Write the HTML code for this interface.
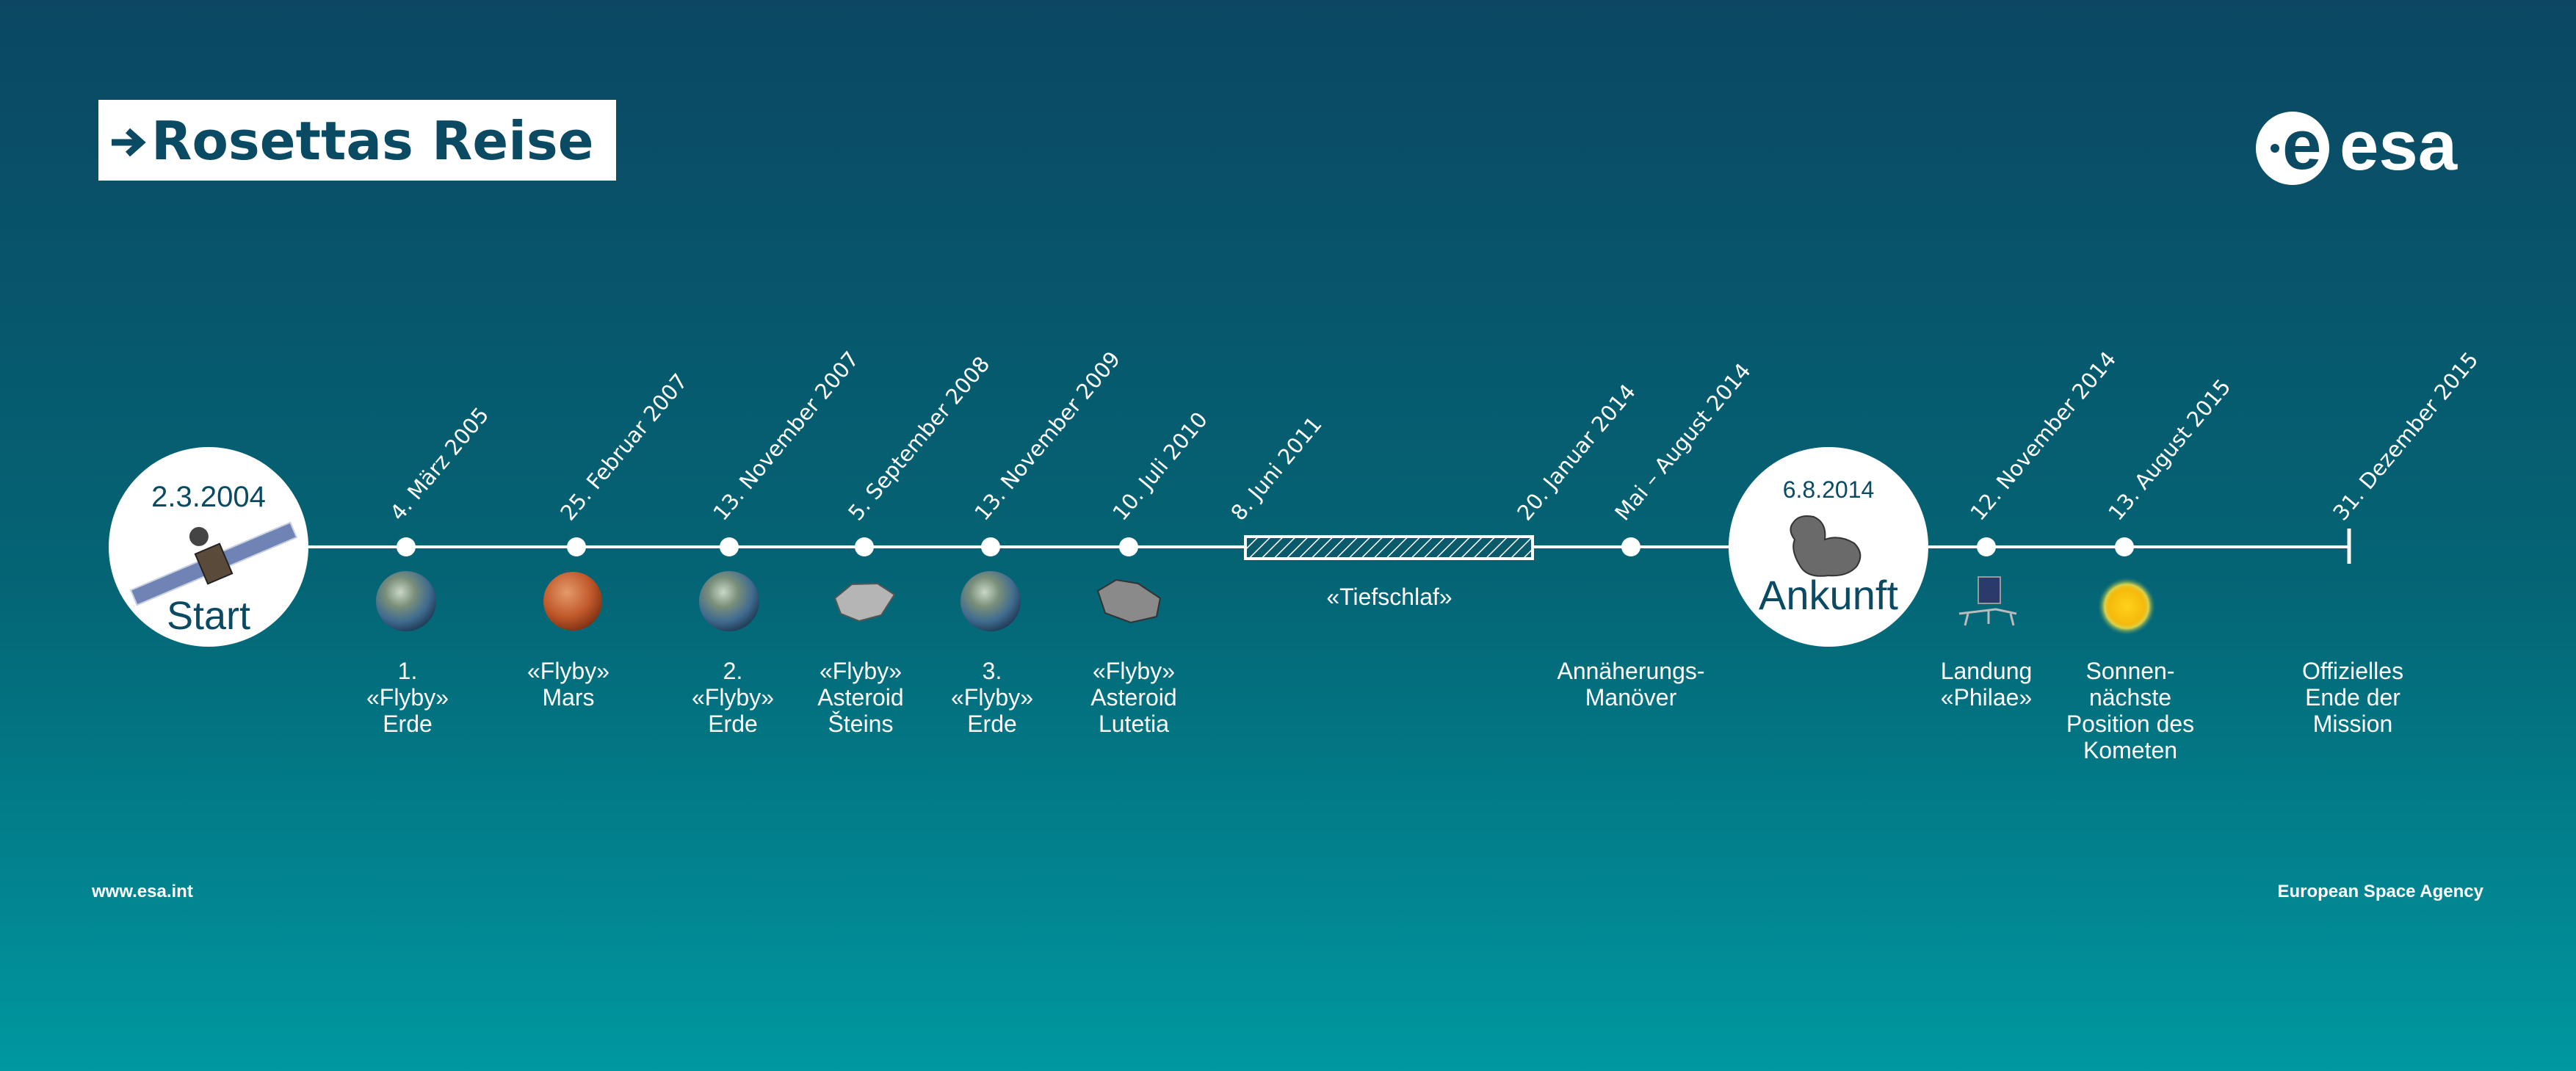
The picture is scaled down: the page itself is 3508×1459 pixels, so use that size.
<!DOCTYPE html>
<html><head><meta charset="utf-8"><style>
html,body{margin:0;padding:0;width:3508px;height:1459px;overflow:hidden}
svg{display:block}
.d{font-family:"DejaVu Sans","Liberation Sans",sans-serif;font-size:29px;fill:#fff}
.l{font-family:"Liberation Sans Narrow","Liberation Sans",sans-serif;font-size:32px;fill:#fff;text-anchor:middle}
</style></head><body>
<svg width="3508" height="1459" viewBox="0 0 3508 1459" xmlns="http://www.w3.org/2000/svg">
<defs>
<linearGradient id="bg" x1="0" y1="0" x2="0" y2="1">
<stop offset="0" stop-color="#0b4762"/><stop offset="0.55" stop-color="#046575"/><stop offset="1" stop-color="#0098a1"/>
</linearGradient>
<radialGradient id="earth" cx="0.4" cy="0.35" r="0.7">
<stop offset="0" stop-color="#c9d6c8"/><stop offset="0.35" stop-color="#7a8f7a"/><stop offset="0.7" stop-color="#3f6b8f"/><stop offset="1" stop-color="#1d3550"/>
</radialGradient>
<radialGradient id="mars" cx="0.4" cy="0.35" r="0.7">
<stop offset="0" stop-color="#e59a6a"/><stop offset="0.6" stop-color="#c0582a"/><stop offset="1" stop-color="#7a2e12"/>
</radialGradient>
<radialGradient id="sun" cx="0.5" cy="0.5" r="0.5">
<stop offset="0" stop-color="#ffd21a"/><stop offset="0.62" stop-color="#f5b90c"/><stop offset="0.75" stop-color="#d9d24a"/><stop offset="1" stop-color="#0b6a74" stop-opacity="0"/>
</radialGradient>
<pattern id="hatch" width="12" height="12" patternUnits="userSpaceOnUse" patternTransform="rotate(45)">
<rect width="12" height="12" fill="#0a5a6c"/><line x1="0" y1="0" x2="0" y2="12" stroke="#fff" stroke-width="3"/>
</pattern>
</defs>
<rect width="3508" height="1459" fill="url(#bg)"/>

<!-- title -->
<rect x="134" y="136" width="705" height="110" fill="#fff"/>
<path d="M152,194 L188,194 M174,178 L192,194 L174,210" stroke="#0b4a63" stroke-width="9" fill="none"/>
<text x="206" y="217" font-family="DejaVu Sans,'Liberation Sans',sans-serif" font-weight="bold" font-size="72" fill="#0b4a63">Rosettas Reise</text>

<!-- esa logo -->
<circle cx="3122" cy="202" r="50" fill="#fff"/>
<circle cx="3098" cy="202" r="6" fill="#0b4a63"/>
<text x="3108" y="230" font-family="'Liberation Sans',sans-serif" font-weight="bold" font-size="96" fill="#0b4a63">e</text>
<text x="3186" y="231" font-family="'Liberation Sans',sans-serif" font-weight="bold" font-size="96" fill="#fff">esa</text>

<!-- timeline -->
<line x1="400" y1="745" x2="3200" y2="745" stroke="#fff" stroke-width="4"/>
<line x1="3199" y1="720" x2="3199" y2="768" stroke="#fff" stroke-width="5"/>
<rect x="1696" y="731" width="391" height="30" fill="url(#hatch)" stroke="#fff" stroke-width="4"/>
<g fill="#fff">
<circle cx="553" cy="745" r="13"/><circle cx="785" cy="745" r="13"/><circle cx="993" cy="745" r="13"/>
<circle cx="1177" cy="745" r="13"/><circle cx="1349" cy="745" r="13"/><circle cx="1537" cy="745" r="13"/>
<circle cx="2221" cy="745" r="13"/><circle cx="2705" cy="745" r="13"/><circle cx="2893" cy="745" r="13"/>
</g>

<!-- start circle -->
<circle cx="284" cy="745" r="136" fill="#fff"/>
<text x="284" y="690" text-anchor="middle" font-family="'Liberation Sans Narrow','Liberation Sans',sans-serif" font-size="40" fill="#0b4a63">2.3.2004</text>
<text x="284" y="857" text-anchor="middle" font-family="'Liberation Sans Narrow','Liberation Sans',sans-serif" font-size="54" fill="#0b4a63">Start</text>
<g transform="translate(291,768) rotate(-23)">
<rect x="-118" y="-11" width="100" height="22" fill="#6f84b5" stroke="#c8d0e0" stroke-width="2"/>
<rect x="18" y="-11" width="100" height="22" fill="#6f84b5" stroke="#c8d0e0" stroke-width="2"/>
<rect x="-18" y="-22" width="36" height="44" fill="#5a4a3a" stroke="#222" stroke-width="2"/>
<circle cx="-4" cy="-42" r="13" fill="#444"/>
</g>

<!-- arrival circle -->
<circle cx="2490" cy="745" r="136" fill="#fff"/>
<text x="2490" y="678" text-anchor="middle" font-family="'Liberation Sans Narrow','Liberation Sans',sans-serif" font-size="32" fill="#0b4a63">6.8.2014</text>
<text x="2490" y="830" text-anchor="middle" font-family="'Liberation Sans Narrow','Liberation Sans',sans-serif" font-size="56" fill="#0b4a63">Ankunft</text>
<g fill="#6a6a6a" stroke="#333" stroke-width="2">
<path d="M2442,712 Q2450,700 2470,704 Q2488,712 2485,735 Q2505,728 2525,740 Q2540,755 2528,772 Q2515,786 2490,784 Q2462,788 2452,772 Q2438,750 2444,735 Q2434,722 2442,712Z"/>
</g>

<!-- icons -->
<circle cx="553" cy="819" r="41" fill="url(#earth)"/>
<circle cx="993" cy="819" r="41" fill="url(#earth)"/>
<circle cx="1349" cy="819" r="41" fill="url(#earth)"/>
<circle cx="780" cy="819" r="40" fill="url(#mars)"/>
<path d="M1137,815 L1160,796 L1195,795 L1218,810 L1200,838 L1170,846 L1145,836Z" fill="#b5b5b5" stroke="#555" stroke-width="2"/>
<path d="M1495,805 L1520,790 L1550,795 L1580,815 L1575,840 L1540,848 L1505,835Z" fill="#8a8a8a" stroke="#333" stroke-width="2"/>
<g>
<rect x="2694" y="786" width="30" height="36" fill="#2a3a6a" stroke="#999" stroke-width="2"/>
<path d="M2668,836 L2718,830 L2746,836 M2680,836 L2676,852 M2738,836 L2742,852 M2708,830 L2708,850" stroke="#bbb" stroke-width="3" fill="none"/>
</g>
<circle cx="2896" cy="826" r="40" fill="url(#sun)"/>

<!-- dates -->
<g class="d">
<text transform="translate(545,711) rotate(-50)">4. März 2005</text>
<text transform="translate(777,711) rotate(-50)">25. Februar 2007</text>
<text transform="translate(985,711) rotate(-50)">13. November 2007</text>
<text transform="translate(1169,711) rotate(-50)">5. September 2008</text>
<text transform="translate(1341,711) rotate(-50)">13. November 2009</text>
<text transform="translate(1529,711) rotate(-50)">10. Juli 2010</text>
<text transform="translate(1690,711) rotate(-50)">8. Juni 2011</text>
<text transform="translate(2080,711) rotate(-50)">20. Januar 2014</text>
<text transform="translate(2213,711) rotate(-50)">Mai – August 2014</text>
<text transform="translate(2697,711) rotate(-50)">12. November 2014</text>
<text transform="translate(2885,711) rotate(-50)">13. August 2015</text>
<text transform="translate(3191,711) rotate(-50)">31. Dezember 2015</text>
</g>

<!-- labels -->
<g class="l">
<text x="555" y="925">1.</text><text x="555" y="961">«Flyby»</text><text x="555" y="997">Erde</text>
<text x="774" y="925">«Flyby»</text><text x="774" y="961">Mars</text>
<text x="998" y="925">2.</text><text x="998" y="961">«Flyby»</text><text x="998" y="997">Erde</text>
<text x="1172" y="925">«Flyby»</text><text x="1172" y="961">Asteroid</text><text x="1172" y="997">Šteins</text>
<text x="1351" y="925">3.</text><text x="1351" y="961">«Flyby»</text><text x="1351" y="997">Erde</text>
<text x="1544" y="925">«Flyby»</text><text x="1544" y="961">Asteroid</text><text x="1544" y="997">Lutetia</text>
<text x="1892" y="824">«Tiefschlaf»</text>
<text x="2221" y="925">Annäherungs-</text><text x="2221" y="961">Manöver</text>
<text x="2705" y="925">Landung</text><text x="2705" y="961">«Philae»</text>
<text x="2901" y="925">Sonnen-</text><text x="2901" y="961">nächste</text><text x="2901" y="997">Position des</text><text x="2901" y="1033">Kometen</text>
<text x="3204" y="925">Offizielles</text><text x="3204" y="961">Ende der</text><text x="3204" y="997">Mission</text>
</g>

<text x="125" y="1222" font-family="'Liberation Sans',sans-serif" font-weight="bold" font-size="24" fill="#fff">www.esa.int</text>
<text x="3382" y="1222" text-anchor="end" font-family="'Liberation Sans',sans-serif" font-weight="bold" font-size="24" fill="#fff">European Space Agency</text>
</svg>
</body></html>
